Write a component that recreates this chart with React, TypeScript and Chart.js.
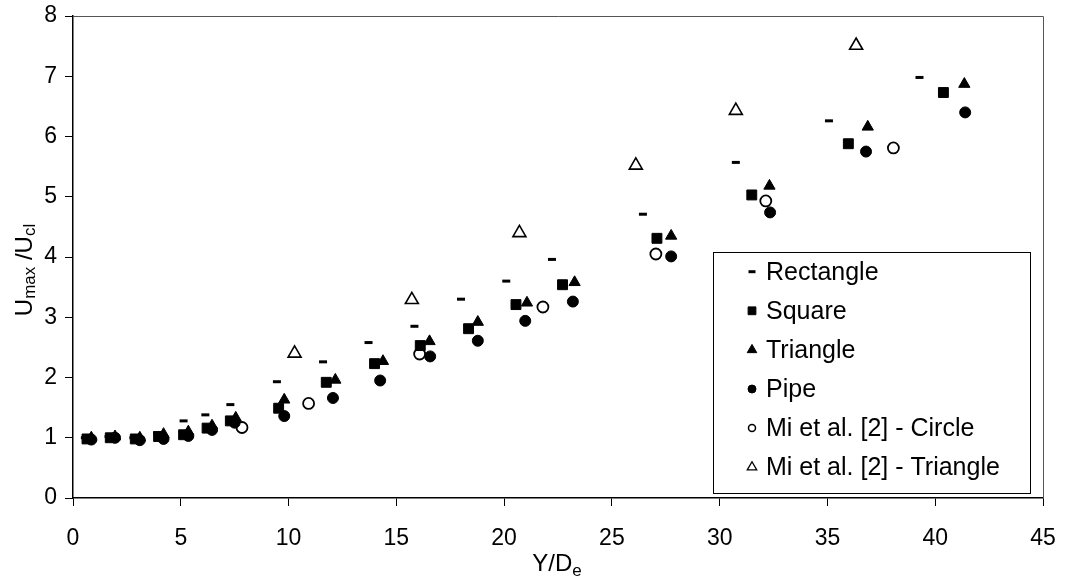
import React, { useEffect, useRef } from "react";
import { Chart, registerables } from "chart.js";
import { drawPoint } from "chart.js/helpers";

Chart.register(...registerables);

const FONT = "'Liberation Sans', Arial, sans-serif";

// ---- Data ----
const rectX = [0.55, 1.65, 2.8, 3.9, 5.13, 6.14, 7.3, 9.46, 11.6, 13.71, 15.84, 18.0, 20.1, 22.22, 26.44, 30.75, 35.07, 39.27];
const rectY = [1.0, 1.02, 1.0, 1.08, 1.28, 1.38, 1.55, 1.93, 2.26, 2.58, 2.85, 3.3, 3.6, 3.96, 4.71, 5.57, 6.26, 6.98];

const squareX = [0.65, 1.73, 2.89, 3.97, 5.13, 6.22, 7.3, 9.54, 11.75, 13.99, 16.11, 18.35, 20.55, 22.71, 27.09, 31.49, 35.97, 40.38];
const squareY = [0.98, 1.0, 0.98, 1.02, 1.05, 1.16, 1.28, 1.49, 1.92, 2.23, 2.53, 2.81, 3.21, 3.54, 4.31, 5.03, 5.88, 6.73];

const triX = [0.85, 1.95, 3.1, 4.2, 5.35, 6.45, 7.55, 9.8, 12.17, 14.38, 16.54, 18.78, 21.06, 23.27, 27.75, 32.31, 36.87, 41.35];
const triY = [1.0, 1.02, 1.0, 1.06, 1.1, 1.2, 1.33, 1.63, 1.96, 2.27, 2.6, 2.92, 3.24, 3.58, 4.35, 5.18, 6.16, 6.87];

const pipeX = [0.85, 1.95, 3.1, 4.2, 5.35, 6.45, 7.5, 9.8, 12.06, 14.25, 16.57, 18.78, 20.98, 23.19, 27.75, 32.34, 36.79, 41.39];
const pipeY = [0.97, 1.0, 0.96, 0.98, 1.03, 1.13, 1.25, 1.36, 1.66, 1.95, 2.35, 2.61, 2.94, 3.26, 4.01, 4.74, 5.75, 6.4];

const miCircleX = [7.84, 10.93, 16.08, 21.8, 27.04, 32.14, 38.06];
const miCircleY = [1.17, 1.57, 2.39, 3.17, 4.05, 4.93, 5.81];

const miTriX = [10.28, 15.72, 20.71, 26.11, 30.75, 36.33];
const miTriY = [2.4, 3.29, 4.4, 5.52, 6.43, 7.51];

const seriesLabels = [
  "Rectangle",
  "Square",
  "Triangle",
  "Pipe",
  "Mi et al. [2] - Circle",
  "Mi et al. [2] - Triangle",
];

const xTickValues = [0, 5, 10, 15, 20, 25, 30, 35, 40, 45];
const yTickValues = [0, 1, 2, 3, 4, 5, 6, 7, 8];

const toPoints = (xs: number[], ys: number[]) => xs.map((x, i) => ({ x, y: ys[i] }));

// legend symbol styles
const legendSymbols = [
  { pointStyle: "line", radius: 3.5, borderWidth: 3, fill: "#000" },
  { pointStyle: "rect", radius: 5.5, borderWidth: 1, fill: "#000" },
  { pointStyle: "triangle", radius: 5.5, borderWidth: 1, fill: "#000" },
  { pointStyle: "circle", radius: 4, borderWidth: 1, fill: "#000" },
  { pointStyle: "circle", radius: 3.5, borderWidth: 1.5, fill: "#fff" },
  { pointStyle: "triangle", radius: 5.5, borderWidth: 1.3, fill: "#fff" },
];

const framePlugin = {
  id: "frame",
  beforeDatasetsDraw(chart: any) {
    const { ctx, chartArea } = chart;
    ctx.save();
    ctx.strokeStyle = "#555";
    ctx.lineWidth = 1;
    ctx.beginPath();
    ctx.moveTo(chartArea.left, chartArea.top + 0.5);
    ctx.lineTo(chartArea.right + 0.5, chartArea.top + 0.5);
    ctx.lineTo(chartArea.right + 0.5, chartArea.bottom);
    ctx.stroke();
    ctx.restore();
  },
};

function drawParts(ctx: CanvasRenderingContext2D, parts: { t: string; size: number; dy: number }[], cx: number) {
  let total = 0;
  for (const p of parts) {
    ctx.font = `${p.size}px ${FONT}`;
    total += ctx.measureText(p.t).width;
  }
  let x = cx - total / 2;
  for (const p of parts) {
    ctx.font = `${p.size}px ${FONT}`;
    ctx.fillText(p.t, x, p.dy);
    x += ctx.measureText(p.t).width;
  }
}

const titlesPlugin = {
  id: "titles",
  afterDraw(chart: any) {
    const { ctx } = chart;
    ctx.save();
    ctx.fillStyle = "#000";
    ctx.textBaseline = "alphabetic";
    ctx.textAlign = "left";
    // y axis title
    ctx.save();
    ctx.translate(32, 0);
    ctx.rotate(-Math.PI / 2);
    ctx.translate(-270, 0);
    drawParts(
      ctx,
      [
        { t: "U", size: 24, dy: 0 },
        { t: "max", size: 17, dy: 3 },
        { t: " /U", size: 24, dy: 0 },
        { t: "cl", size: 17, dy: 3 },
      ],
      0
    );
    ctx.restore();
    // x axis title
    ctx.save();
    ctx.translate(0, 571);
    drawParts(
      ctx,
      [
        { t: "Y/D", size: 24, dy: 0 },
        { t: "e", size: 17, dy: 5 },
      ],
      557
    );
    ctx.restore();
    ctx.restore();
  },
};

const legendPlugin = {
  id: "boxLegend",
  afterDraw(chart: any) {
    const { ctx } = chart;
    const left = 713;
    const top = 252;
    const right = 1030;
    const bottom = 493;
    ctx.save();
    ctx.fillStyle = "#fff";
    ctx.fillRect(left, top, right - left, bottom - top);
    ctx.strokeStyle = "#000";
    ctx.lineWidth = 1;
    ctx.strokeRect(left + 0.5, top + 0.5, right - left, bottom - top);
    chart.data.datasets.forEach((ds: any, i: number) => {
      const cy = 271.7 + i * 39.1;
      const sym = legendSymbols[i];
      ctx.fillStyle = sym.fill;
      ctx.strokeStyle = "#000";
      ctx.lineWidth = sym.borderWidth;
      drawPoint(ctx, { pointStyle: sym.pointStyle as any, rotation: 0, radius: sym.radius, borderWidth: sym.borderWidth }, 752, cy);
      ctx.fillStyle = "#000";
      ctx.font = `25px ${FONT}`;
      ctx.textBaseline = "middle";
      ctx.textAlign = "left";
      ctx.fillText(ds.label, 766, cy + 1);
    });
    ctx.restore();
  },
};

export default function App() {
  const ref = useRef<HTMLCanvasElement>(null);

  useEffect(() => {
    document.body.style.margin = "0";
    const canvas = ref.current;
    if (!canvas) return;
    const common = { showLine: false, pointHoverRadius: 0 };
    const chart = new Chart(canvas, {
      type: "scatter",
      data: {
        datasets: [
          {
            ...common,
            label: seriesLabels[0],
            data: toPoints(rectX, rectY),
            pointStyle: "line",
            pointRadius: 4,
            pointBorderWidth: 3,
            pointBorderColor: "#000",
            pointBackgroundColor: "#000",
            borderColor: "#000",
            backgroundColor: "#000",
          },
          {
            ...common,
            label: seriesLabels[1],
            data: toPoints(squareX, squareY),
            pointStyle: "rect",
            pointRadius: 7,
            pointBorderWidth: 1,
            pointBorderColor: "#000",
            pointBackgroundColor: "#000",
            borderColor: "#000",
            backgroundColor: "#000",
          },
          {
            ...common,
            label: seriesLabels[2],
            data: toPoints(triX, triY),
            pointStyle: "triangle",
            pointRadius: 6.5,
            pointBorderWidth: 1,
            pointBorderColor: "#000",
            pointBackgroundColor: "#000",
            borderColor: "#000",
            backgroundColor: "#000",
          },
          {
            ...common,
            label: seriesLabels[3],
            data: toPoints(pipeX, pipeY),
            pointStyle: "circle",
            pointRadius: 5.5,
            pointBorderWidth: 1,
            pointBorderColor: "#000",
            pointBackgroundColor: "#000",
            borderColor: "#000",
            backgroundColor: "#000",
          },
          {
            ...common,
            label: seriesLabels[4],
            data: toPoints(miCircleX, miCircleY),
            pointStyle: "circle",
            pointRadius: 5.5,
            pointBorderWidth: 1.8,
            pointBorderColor: "#000",
            pointBackgroundColor: "#fff",
            borderColor: "#000",
            backgroundColor: "#fff",
          },
          {
            ...common,
            label: seriesLabels[5],
            data: toPoints(miTriX, miTriY),
            pointStyle: "triangle",
            pointRadius: 7.5,
            pointBorderWidth: 1.6,
            pointBorderColor: "#000",
            pointBackgroundColor: "#fff",
            borderColor: "#000",
            backgroundColor: "#fff",
          },
        ],
      },
      options: {
        responsive: false,
        animation: false,
        events: [],
        layout: { padding: { left: 0, top: 16, right: 22, bottom: 0 } },
        plugins: {
          legend: { display: false },
          tooltip: { enabled: false },
          title: { display: false },
        },
        scales: {
          x: {
            type: "linear",
            min: 0,
            max: 45,
            afterBuildTicks: (scale: any) => {
              scale.ticks = xTickValues.map((v) => ({ value: v }));
            },
            afterFit: (scale: any) => {
              scale.height = 82;
              scale.paddingLeft = 0;
              scale.paddingRight = 0;
            },
            ticks: {
              color: "#000",
              font: { family: FONT, size: 23 },
              padding: 19,
              maxRotation: 0,
              autoSkip: false,
            },
            grid: {
              drawOnChartArea: false,
              drawTicks: true,
              tickLength: 8,
              color: "#000",
              lineWidth: 1,
            },
            border: { display: true, color: "#000", width: 1.5 },
          },
          y: {
            type: "linear",
            min: 0,
            max: 8,
            afterBuildTicks: (scale: any) => {
              scale.ticks = yTickValues.map((v) => ({ value: v }));
            },
            afterFit: (scale: any) => {
              scale.width = 73;
              scale.paddingTop = 0;
              scale.paddingBottom = 0;
            },
            ticks: {
              color: "#000",
              font: { family: FONT, size: 23 },
              padding: 8,
              autoSkip: false,
            },
            grid: {
              drawOnChartArea: false,
              drawTicks: true,
              tickLength: 8,
              color: "#000",
              lineWidth: 1,
            },
            border: { display: true, color: "#000", width: 1.5 },
          },
        },
      },
      plugins: [framePlugin, legendPlugin, titlesPlugin],
    } as any);
    return () => chart.destroy();
  }, []);

  return <canvas ref={ref} width={1065} height={580} style={{ display: "block" }} />;
}
